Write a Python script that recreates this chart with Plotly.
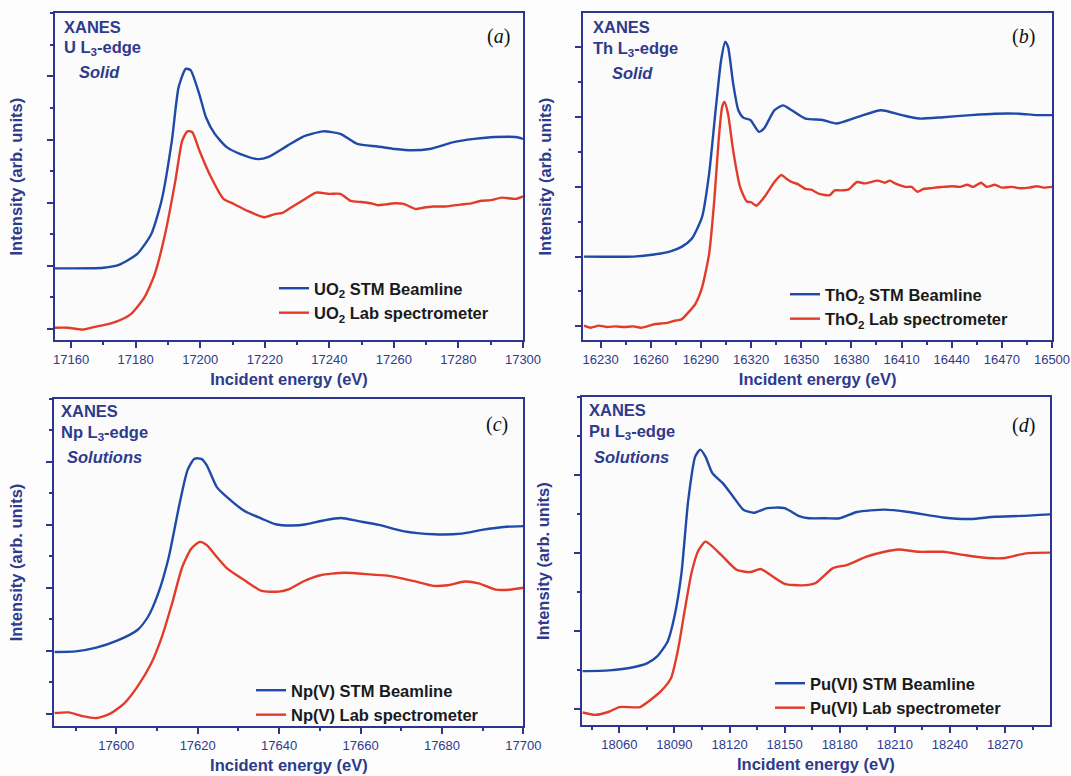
import plotly.graph_objects as go

W, H = 1071, 776

# ---------------- data ----------------
# (a) UO2, U L3-edge
a_blue_e = [17155, 17170, 17175, 17180.5, 17184.8, 17188, 17191.2, 17193.3, 17195.5, 17197, 17199.7, 17201.8,
            17204.5, 17208.2, 17212.5, 17217.8, 17221, 17226.3, 17231.6, 17238, 17243.4, 17248.7, 17255, 17260.4,
            17265.7, 17271, 17278.5, 17284.9, 17291.3, 17297.7, 17300]
a_blue_v = [0.96, 0.97, 1.02, 1.19, 1.50, 2.03, 2.98, 3.83, 4.12, 4.10, 3.72, 3.35, 3.09, 2.88, 2.77, 2.69, 2.72,
            2.88, 3.04, 3.13, 3.09, 2.93, 2.89, 2.85, 2.83, 2.85, 2.96, 3.01, 3.04, 3.04, 3.01]
a_red_e = [17155, 17159, 17163.5, 17167, 17170, 17174.2, 17178.4, 17182.7, 17185.9, 17189.1, 17192.3, 17194.4,
           17196, 17197.5, 17199.7, 17202.9, 17207.2, 17210.4, 17214.6, 17219.9, 17223.1, 17225.5, 17227.4,
           17231.6, 17235.9, 17240, 17243.4, 17246.6, 17250, 17253, 17255, 17257, 17260.4, 17263, 17266.8, 17269,
           17272.1, 17276, 17280.6, 17284, 17287, 17290, 17293.4, 17297.7, 17300]
a_red_v = [0.02, 0.02, -0.01, 0.03, 0.06, 0.12, 0.23, 0.50, 0.87, 1.50, 2.35, 2.98, 3.13, 3.12, 2.83, 2.45, 2.06,
           1.98, 1.87, 1.77, 1.82, 1.84, 1.90, 2.03, 2.16, 2.14, 2.14, 2.03, 2.01, 1.99, 1.96, 1.97, 1.99, 1.98,
           1.90, 1.92, 1.94, 1.94, 1.97, 1.99, 2.03, 2.04, 2.08, 2.06, 2.10]

# (b) ThO2, Th L3-edge
b_blue_e = [16220, 16249.6, 16262, 16272.2, 16278.4, 16284.6, 16290.7, 16294.9, 16299, 16302.1, 16304.5, 16306.2,
            16309.3, 16312.4, 16315.5, 16319.6, 16324.7, 16327.8, 16334, 16339.1, 16344.3, 16352.5, 16362.8,
            16371.1, 16383.4, 16397.8, 16410.2, 16420.5, 16434.9, 16451.4, 16465.8, 16480.2, 16490.5, 16500]
b_blue_v = [1.0, 1.0, 1.03, 1.08, 1.14, 1.26, 1.57, 2.19, 3.15, 3.82, 4.08, 4.01, 3.48, 3.10, 2.99, 2.96, 2.79,
            2.84, 3.10, 3.17, 3.10, 2.98, 2.96, 2.91, 3.0, 3.10, 3.03, 2.98, 3.0, 3.03, 3.05, 3.05, 3.03, 3.03]
b_red_e = [16220, 16224, 16229, 16234, 16239, 16244, 16249.6, 16254, 16258, 16262, 16266, 16270, 16274.3, 16278.4,
           16282.5, 16286.6, 16290.7, 16294.9, 16298, 16300.6, 16302.7, 16304.1, 16306.2, 16309.3, 16313.4,
           16317.5, 16320, 16323.1, 16327.8, 16334, 16338.1, 16341, 16344.3, 16348, 16352.5, 16356, 16360.8,
           16366.9, 16370, 16373.1, 16378, 16383.4, 16388, 16395.8, 16400, 16403, 16406.1, 16412.3, 16416,
           16419.5, 16423, 16426.7, 16430, 16434.9, 16440, 16445, 16449.3, 16453, 16457.6, 16461, 16465.8, 16470,
           16476.1, 16481, 16486.4, 16491, 16495, 16500]
b_red_v = [0.01, -0.02, 0.01, -0.01, 0.0, -0.01, 0.0, -0.02, 0.0, 0.03, 0.04, 0.05, 0.08, 0.10, 0.20, 0.32, 0.56,
           1.04, 1.81, 2.67, 3.15, 3.22, 3.05, 2.52, 2.0, 1.79, 1.78, 1.73, 1.85, 2.07, 2.17, 2.12, 2.07, 2.04,
           1.97, 1.96, 1.90, 1.88, 1.95, 1.95, 1.96, 2.07, 2.05, 2.09, 2.06, 2.09, 2.05, 2.0, 2.0, 1.93, 1.97,
           1.98, 1.99, 2.0, 2.01, 2.0, 2.03, 2.0, 2.06, 2.0, 2.03, 1.99, 2.0, 1.98, 1.99, 2.01, 1.99, 2.0]

# (c) Np(V), Np L3-edge
c_blue_e = [17584.8, 17590, 17595.1, 17600.2, 17605.2, 17607.8, 17610.3, 17612.9, 17615.4, 17617.5, 17619.2,
            17620.9, 17622.2, 17624.7, 17627.2, 17631.5, 17635.7, 17639.1, 17643.3, 17646.7, 17650.9, 17655.2,
            17659.4, 17664.5, 17670.4, 17678, 17684.8, 17689.8, 17695.8, 17700]
c_blue_v = [0.98, 0.99, 1.05, 1.16, 1.33, 1.54, 1.91, 2.49, 3.29, 3.87, 4.05, 4.05, 3.95, 3.60, 3.44, 3.22, 3.10,
            3.01, 2.99, 3.01, 3.07, 3.11, 3.06, 3.0, 2.90, 2.85, 2.86, 2.92, 2.97, 2.98]
c_red_e = [17584.8, 17588.3, 17591.7, 17595.1, 17598.5, 17601.9, 17605.2, 17608.6, 17611.2, 17613.7, 17616.2,
           17618.4, 17620.5, 17622.2, 17624.7, 17627.2, 17631.5, 17635.7, 17639.9, 17642.5, 17645.9, 17650.1,
           17656, 17662.8, 17667, 17672.9, 17678, 17681.4, 17685.6, 17689, 17693.2, 17696.6, 17700]
c_red_v = [0.01, 0.02, -0.04, -0.07, 0.0, 0.16, 0.43, 0.80, 1.22, 1.75, 2.33, 2.62, 2.73, 2.68, 2.49, 2.31, 2.12,
           1.95, 1.94, 1.98, 2.10, 2.20, 2.24, 2.21, 2.19, 2.11, 2.03, 2.04, 2.10, 2.07, 1.97, 1.97, 2.0]

# (d) Pu(VI), Pu L3-edge
d_blue_e = [18040, 18054.4, 18067.5, 18075, 18080.6, 18086.3, 18090, 18093.8, 18097.5, 18101.3, 18104.1, 18106.9,
            18110.6, 18116.3, 18121.9, 18127.5, 18133.1, 18140.6, 18150, 18157.5, 18163.1, 18172.5, 18180,
            18189.4, 18204.4, 18217.5, 18236.3, 18251.3, 18264.4, 18279.4, 18295]
d_blue_v = [0.49, 0.50, 0.54, 0.59, 0.68, 0.87, 1.19, 1.74, 2.68, 3.24, 3.33, 3.24, 3.03, 2.90, 2.73, 2.56, 2.52,
            2.58, 2.58, 2.48, 2.45, 2.45, 2.45, 2.53, 2.56, 2.53, 2.46, 2.44, 2.47, 2.48, 2.50]
d_red_e = [18040, 18046.9, 18054.4, 18060, 18071.3, 18076.9, 18082.5, 18088.1, 18091.9, 18095.6, 18099.4,
           18103.1, 18106.9, 18110.6, 18116.3, 18123.8, 18131.3, 18136.9, 18142.5, 18150, 18159.4, 18166.9,
           18176.3, 18183.8, 18195, 18204.4, 18211.9, 18223.1, 18236.3, 18247.5, 18260.6, 18270, 18281.3, 18295]
d_red_v = [-0.04, -0.07, -0.03, 0.03, 0.03, 0.12, 0.23, 0.40, 0.76, 1.27, 1.76, 2.04, 2.15, 2.09, 1.96, 1.79,
           1.76, 1.80, 1.72, 1.61, 1.59, 1.62, 1.81, 1.85, 1.96, 2.02, 2.05, 2.02, 2.02, 1.98, 1.94, 1.94, 2.0, 2.01]

panel_labels = ["(<i>a</i>)", "(<i>b</i>)", "(<i>c</i>)", "(<i>d</i>)"]
edge_labels = ["U L<sub>3</sub>-edge", "Th L<sub>3</sub>-edge", "Np L<sub>3</sub>-edge", "Pu L<sub>3</sub>-edge"]
state_labels = ["Solid", "Solid", "Solutions", "Solutions"]
sample_names = ["UO<sub>2</sub>", "ThO<sub>2</sub>", "Np(V)", "Pu(VI)"]
x_title = "Incident energy (eV)"
y_title = "Intensity (arb. units)"

# ---------------- styling ----------------
NAVY = "#2d3590"
TXT = "#2e3a8c"
BLUE = "#1f4aa8"
RED = "#e23b2a"
FONT = "Liberation Sans, Arial, sans-serif"


def px(x):
    return x / W


def py(y):
    return 1 - y / H


panels = [
    dict(data=(a_blue_e, a_blue_v, a_red_e, a_red_v), xd=(55, 523), yd=(13.3, 340),
         xr=(17155, 17300), x0=17160, dx=20, yr=(-0.175, 5.0), yt=[0, 1, 2, 3, 4],
         txt=(61.5, 26.7, 48.3, 76.5, 72.3), lab=(512, 36), leg=(274, 271), ytx=(19, 169)),
    dict(data=(b_blue_e, b_blue_v, b_red_e, b_red_v), xd=(583.4, 1052), yd=(13.3, 340),
         xr=(16219.7, 16500), x0=16230, dx=30, yr=(-0.196, 4.49), yt=[0, 1, 2, 3, 4],
         txt=(591, 27, 49, 610, 73), lab=(1037, 36), leg=(785, 277), ytx=(547, 169)),
    dict(data=(c_blue_e, c_blue_v, c_red_e, c_red_v), xd=(54.4, 523.4), yd=(399, 726),
         xr=(17584.8, 17700), x0=17600, dx=20, yr=(-0.196, 5.0), yt=[0, 1, 2, 3, 4],
         txt=(59.3, 411, 432.7, 64.5, 456.7), lab=(509.6, 424.3), leg=(251, 673), ytx=(19, 553)),
    dict(data=(d_blue_e, d_blue_v, d_red_e, d_red_v), xd=(581.7, 1050), yd=(397.3, 725),
         xr=(18039.5, 18294.5), x0=18060, dx=30, yr=(-0.2, 4.0), yt=[0, 1, 2, 3],
         txt=(586.5, 410, 431.7, 591.7, 456.7), lab=(1037, 425), leg=(770, 666), ytx=(545.5, 553)),
]

fig = go.Figure()
annotations = []
layout = dict(
    width=W, height=H, margin=dict(l=0, r=0, t=0, b=0),
    paper_bgcolor="#fdfdfd", plot_bgcolor="#fbfbfb",
    font=dict(family=FONT, color=TXT),
)

for i, p in enumerate(panels):
    n = "" if i == 0 else str(i + 1)
    xa, ya = "x" + n, "y" + n
    leg = "legend" + n
    be, bv, re_, rv = p["data"]
    fig.add_trace(go.Scatter(x=be, y=bv, xaxis=xa, yaxis=ya, mode="lines",
                             line=dict(color=BLUE, width=2.4, shape="spline", smoothing=0.6),
                             name=f"<b>{sample_names[i]} STM Beamline</b>", legend=leg))
    fig.add_trace(go.Scatter(x=re_, y=rv, xaxis=xa, yaxis=ya, mode="lines",
                             line=dict(color=RED, width=2.4, shape="spline", smoothing=0.6),
                             name=f"<b>{sample_names[i]} Lab spectrometer</b>", legend=leg))

    common = dict(showline=True, mirror=True, linecolor=NAVY, linewidth=2, showgrid=False, zeroline=False,
                  ticks="outside", tickcolor=NAVY, tickwidth=2, ticklen=6)
    layout["xaxis" + n] = dict(
        common, domain=[px(p["xd"][0]), px(p["xd"][1])], anchor=ya, range=list(p["xr"]),
        tick0=p["x0"], dtick=p["dx"], tickformat="d",
        minor=dict(ticks="outside", dtick=p["dx"] / 2, tick0=p["x0"], ticklen=3, tickwidth=1.5, tickcolor=NAVY),
        tickfont=dict(size=13, color=TXT, family=FONT),
        title=dict(text=f"<b>{x_title}</b>", font=dict(size=16.5, color=TXT, family=FONT), standoff=8),
        automargin=False,
    )
    layout["yaxis" + n] = dict(
        common, domain=[py(p["yd"][1]), py(p["yd"][0])], anchor=xa, range=list(p["yr"]),
        tickvals=p["yt"], showticklabels=False,
        minor=dict(ticks="outside", dtick=0.5, tick0=0, ticklen=3, tickwidth=1.5, tickcolor=NAVY),
        title=dict(text=f"<b>{y_title}</b>", font=dict(size=16.5, color=TXT, family=FONT), standoff=20),
        automargin=False,
    )
    layout[leg] = dict(x=px(p["leg"][0]), y=py(p["leg"][1]), xanchor="left", yanchor="top",
                       bgcolor="rgba(0,0,0,0)", font=dict(size=16.5, color="#1a1a1a", family=FONT),
                       tracegroupgap=0, itemwidth=30)

    tx, ty1, ty2, sx, sy = p["txt"]
    common_ann = dict(xref="paper", yref="paper", xanchor="left", yanchor="middle", align="left",
                      showarrow=False, font=dict(size=16.5, color=TXT, family=FONT))
    annotations.append(dict(common_ann, text="<b>XANES</b>", x=px(tx), y=py(ty1)))
    annotations.append(dict(common_ann, text=f"<b>{edge_labels[i]}</b>", x=px(tx), y=py(ty2)))
    annotations.append(dict(common_ann, text=f"<b><i>{state_labels[i]}</i></b>", x=px(sx), y=py(sy)))
    annotations.append(dict(text=panel_labels[i], x=px(p["lab"][0]), y=py(p["lab"][1]), xref="paper",
                            yref="paper", xanchor="right", yanchor="middle", showarrow=False,
                            font=dict(size=20, color="#111111", family="Liberation Serif, Times New Roman, serif")))

layout["annotations"] = annotations
fig.update_layout(**layout)
fig.write_html("out.html")
